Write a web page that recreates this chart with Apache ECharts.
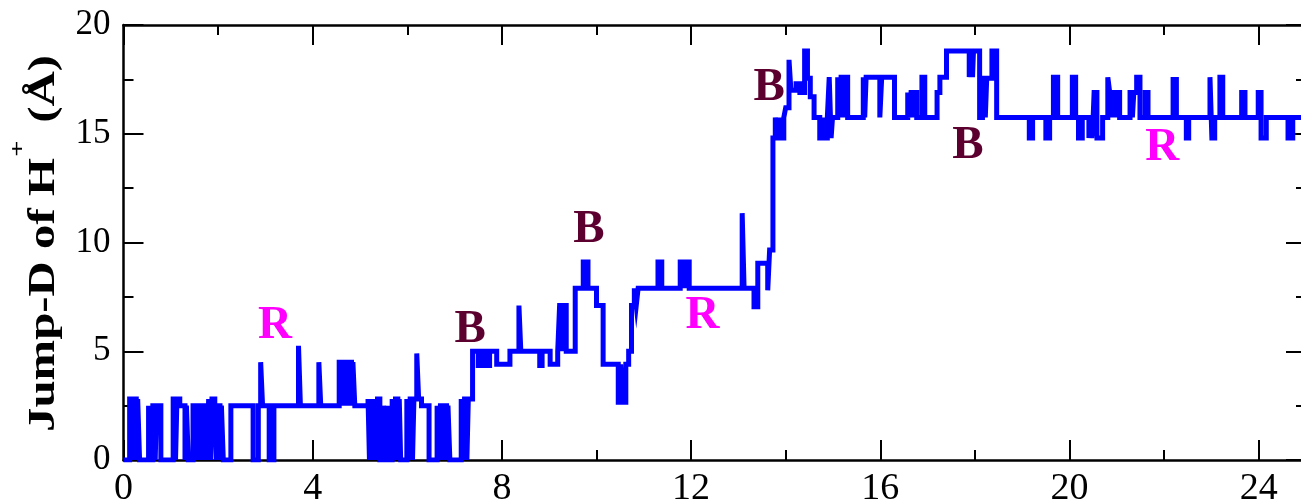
<!DOCTYPE html>
<html>
<head>
<meta charset="utf-8">
<script src="https://cdn.jsdelivr.net/npm/echarts@6/dist/echarts.min.js"></script>
<style>
html,body{margin:0;padding:0;background:#fff;}
#chart{width:1301px;height:504px;}
</style>
</head>
<body>
<div id="chart"></div>
<script>
// ---- data: step trace (value holds from each time until the next) ----
const stepTimes = [
  0, 0.13, 0.18, 0.21, 0.27, 0.30, 0.34, 0.53, 0.57, 0.62, 0.67, 0.70, 0.79,
  1.05, 1.10, 1.13, 1.19, 1.30, 1.33, 1.37, 1.47, 1.53, 1.56, 1.61, 1.64, 1.69,
  1.72, 1.77, 1.80, 1.84, 1.87, 1.93, 1.96, 1.99, 2.04, 2.07, 2.11, 2.27,
  2.74, 2.85, 2.90, 2.94, 3.08, 3.18, 3.70, 3.74, 4.13, 4.17,
  4.56, 4.62, 4.66, 4.72, 4.76, 4.82, 4.85, 4.89,
  5.17, 5.20, 5.23, 5.27, 5.30, 5.34, 5.37, 5.42, 5.50, 5.53, 5.58, 5.62,
  5.68, 5.72, 5.75, 5.80, 5.83, 5.86, 5.99, 6.03, 6.06, 6.11, 6.14, 6.20, 6.24,
  6.30, 6.46, 6.63, 6.67, 6.70, 6.75, 6.78, 6.83, 6.86, 6.90,
  7.14, 7.18, 7.21, 7.26, 7.29, 7.38, 7.50, 7.56, 7.64, 7.74, 7.89, 8.17,
  8.36, 8.40, 8.80, 8.85, 9.02, 9.18, 9.22, 9.27, 9.31, 9.36, 9.55, 9.72, 9.82,
  10.00, 10.14, 10.46, 10.51, 10.55, 10.62, 10.68, 10.74, 10.80, 10.84, 10.88,
  11.30, 11.38, 11.77, 11.86, 11.88, 11.96, 13.08, 13.12, 13.33, 13.41, 13.62,
  13.66, 13.73, 13.78, 13.82, 13.87, 13.91, 13.96, 14.00, 14.07, 14.11, 14.22,
  14.30, 14.40, 14.46, 14.52, 14.60, 14.72, 14.78, 14.82, 14.88, 14.92, 14.96,
  14.99, 15.10, 15.14, 15.17, 15.22, 15.25, 15.31, 15.64, 15.67, 15.70, 15.99,
  16.03, 16.30, 16.58, 16.62, 16.65, 16.70, 16.72, 16.77, 16.88, 16.94,
  17.20, 17.26, 17.40, 17.88, 17.90, 17.95, 17.97, 18.10, 18.16, 18.22, 18.25,
  18.36, 18.46, 19.15, 19.22, 19.50, 19.58, 19.66, 19.75, 20.06, 20.13, 20.19,
  20.27, 20.41, 20.44, 20.47, 20.50, 20.52, 20.58, 20.70, 20.81, 20.85, 20.90,
  20.93, 20.98, 21.01, 21.06, 21.28, 21.33, 21.36, 21.42, 21.49, 21.60, 21.66,
  22.19, 22.26, 22.47, 22.52, 22.97, 23.01, 23.07, 23.18, 23.24, 23.64, 23.71,
  23.99, 24.05, 24.16, 24.62, 24.72, 25
];
const stepValues = [
  0, 2.8, 0, 2.8, 0, 2.8, 0, 2.5, 0, 2.5, 0, 2.5, 0,
  2.8, 0, 2.8, 2.5, 0, 2.5, 0, 2.5, 0, 2.5, 0, 2.5, 0,
  2.5, 0, 2.8, 0, 2.8, 2.5, 0, 2.5, 0, 2.5, 0, 2.5,
  0, 2.5, 4.5, 2.5, 0, 2.5, 5.25, 2.5, 4.5, 2.5,
  4.5, 2.5, 4.5, 2.5, 4.5, 2.5, 4.5, 2.5,
  2.8, 0, 2.8, 0, 2.8, 0, 2.8, 0, 2.5, 0, 2.5, 0,
  2.8, 0, 2.8, 0, 2.8, 0, 2.8, 0, 2.8, 0, 2.8, 4.9, 2.8,
  2.5, 0, 2.5, 0, 2.5, 0, 2.5, 0, 2.5, 0,
  2.8, 0, 2.8, 0, 2.8, 5.0, 4.35, 5.0, 4.35, 5.0, 4.4, 5.0,
  7.1, 5.0, 4.35, 5.0, 4.4, 5.0, 7.1, 5.0, 7.1, 5.0, 7.9, 9.1, 7.9,
  7.1, 4.4, 2.65, 4.4, 2.65, 4.4, 5.0, 7.1, 7.9, 7.1, 7.9,
  9.1, 7.9, 9.1, 7.9, 9.1, 7.9, 11.35, 7.9, 7.05, 9.05, 7.8,
  9.65, 14.8, 15.75, 14.8, 15.75, 14.8, 15.75, 16.2, 18.4, 17.0, 17.3,
  16.9, 18.8, 17.55, 16.7, 15.75, 14.8, 15.75, 14.8, 15.75, 17.6, 14.8,
  15.75, 17.6, 15.75, 17.6, 15.75, 17.6, 15.75, 17.6, 15.75, 17.6, 15.75,
  17.6, 15.75, 16.9, 15.75, 16.9, 15.75, 16.9, 15.75, 17.6, 15.75,
  16.9, 17.6, 18.8, 17.6, 18.8, 17.6, 18.8, 15.75, 17.55, 15.75, 17.55,
  18.8, 15.75, 14.8, 15.75, 14.8, 15.75, 17.6, 15.75, 17.6, 15.75, 14.8,
  15.75, 14.8, 15.75, 14.8, 15.75, 16.9, 14.8, 15.75, 17.6, 16.9, 15.75,
  16.9, 15.75, 16.9, 15.75, 16.9, 15.75, 16.9, 17.6, 15.75, 16.9, 15.75,
  17.5, 15.75, 14.8, 15.75, 17.6, 14.8, 15.75, 17.6, 15.75, 16.9, 15.75,
  16.9, 14.8, 15.75, 14.8, 15.75, 15.75
];

// annotations
const annotX = [3.2, 7.33, 9.84, 12.24, 13.65, 17.85, 21.96];
const annotY = [6.18, 5.98, 10.57, 6.62, 17.13, 14.44, 14.37];
const annotText = ['R', 'B', 'B', 'R', 'B', 'B', 'R'];

// axes
const xMin = 0, xMax = 26, xStep = 4;
const yMin = 0, yMax = 20, yStep = 5;
const yTitleMain = 'Jump-D of H';
const yTitleSup = '+';
const yTitleTail = '(Å)';

// ---- build ----
const lineData = stepTimes.map((t, i) => [t, stepValues[i]]);
const annotColor = { R: '#ff00ff', B: '#5c0030' };
const annotData = annotX.map((x, i) => [x, annotY[i], i]);

const serif = '"Liberation Serif", "Times New Roman", serif';

// measure title pieces
const cv = document.createElement('canvas').getContext('2d');
const mainFont = 'bold 38px "Liberation Serif"';
const supFont = 'bold 22px "Liberation Serif"';
cv.font = mainFont;
const w1 = cv.measureText(yTitleMain).width;
const w3 = cv.measureText(yTitleTail).width;
cv.font = supFont;
const w2 = cv.measureText(yTitleSup).width;
const gapTail = 14;
const totalW = w1 + 1 + w2 + gapTail + w3;
const titleScale = 377 / totalW;

const chart = echarts.init(document.getElementById('chart'), null, { renderer: 'canvas' });

const tickStyle = { color: '#000', width: 2 };
const axisLineStyle = { color: '#000', width: 2.5 };

const option = {
  animation: false,
  backgroundColor: '#fff',
  grid: { left: 123.5, top: 25, width: 1229.8, height: 435, containLabel: false, outerBoundsMode: 'none' },
  xAxis: [
    {
      type: 'value', min: xMin, max: xMax, interval: xStep, position: 'bottom',
      axisLine: { show: true, onZero: false, lineStyle: axisLineStyle },
      axisTick: { show: true, inside: true, length: 20, lineStyle: tickStyle },
      minorTick: { show: true, splitNumber: 2, length: 10, lineStyle: tickStyle },
      splitLine: { show: false },
      axisLabel: {
        show: true, margin: 10, fontFamily: serif, fontSize: 38, color: '#000',
        showMaxLabel: false
      }
    },
    {
      type: 'value', min: xMin, max: xMax, interval: xStep, position: 'top',
      axisLine: { show: true, onZero: false, lineStyle: axisLineStyle },
      axisTick: { show: true, inside: true, length: 20, lineStyle: tickStyle },
      minorTick: { show: true, splitNumber: 2, length: 10, lineStyle: tickStyle },
      splitLine: { show: false },
      axisLabel: { show: false }
    }
  ],
  yAxis: [
    {
      type: 'value', min: yMin, max: yMax, interval: yStep, position: 'left',
      axisLine: { show: true, onZero: false, lineStyle: axisLineStyle },
      axisTick: { show: true, inside: true, length: 20, lineStyle: tickStyle },
      minorTick: { show: true, splitNumber: 2, length: 10, lineStyle: tickStyle },
      splitLine: { show: false },
      axisLabel: { show: true, margin: 13, fontFamily: serif, fontSize: 35, color: '#000' }
    },
    {
      type: 'value', min: yMin, max: yMax, interval: yStep, position: 'right',
      offset: -47.3,
      axisLine: { show: true, onZero: false, lineStyle: axisLineStyle },
      axisTick: { show: true, inside: true, length: 20, lineStyle: tickStyle },
      minorTick: { show: true, splitNumber: 2, length: 10, lineStyle: tickStyle },
      splitLine: { show: false },
      axisLabel: { show: false }
    }
  ],
  series: [
    {
      type: 'line',
      xAxisIndex: 0, yAxisIndex: 0,
      data: lineData,
      step: 'end',
      showSymbol: false,
      symbol: 'none',
      lineStyle: { color: '#0000ff', width: 5, join: 'miter' },
      silent: true,
      z: 3
    },
    {
      type: 'custom',
      xAxisIndex: 0, yAxisIndex: 0,
      data: annotData,
      silent: true,
      z: 5,
      renderItem: function (params, api) {
        const p = api.coord([api.value(0), api.value(1)]);
        const t = annotText[api.value(2)];
        return {
          type: 'text',
          x: p[0], y: p[1],
          style: {
            text: t,
            fill: annotColor[t],
            font: 'bold 47px "Liberation Serif"',
            align: 'center',
            verticalAlign: 'middle'
          }
        };
      }
    }
  ],
  graphic: [
    {
      type: 'group',
      x: 44.5, y: 432,
      rotation: Math.PI / 2,
      scaleX: titleScale, scaleY: 1,
      silent: true,
      children: [
        { type: 'text', x: 0, y: 0, style: { text: yTitleMain, font: mainFont, fill: '#000', align: 'left', verticalAlign: 'middle' } },
        { type: 'text', x: w1 + 1, y: -26, style: { text: yTitleSup, font: supFont, fill: '#000', align: 'left', verticalAlign: 'middle' } },
        { type: 'text', x: w1 + 1 + w2 + gapTail, y: 0, style: { text: yTitleTail, font: mainFont, fill: '#000', align: 'left', verticalAlign: 'middle' } }
      ]
    }
  ]
};
chart.setOption(option);
</script>
</body>
</html>
